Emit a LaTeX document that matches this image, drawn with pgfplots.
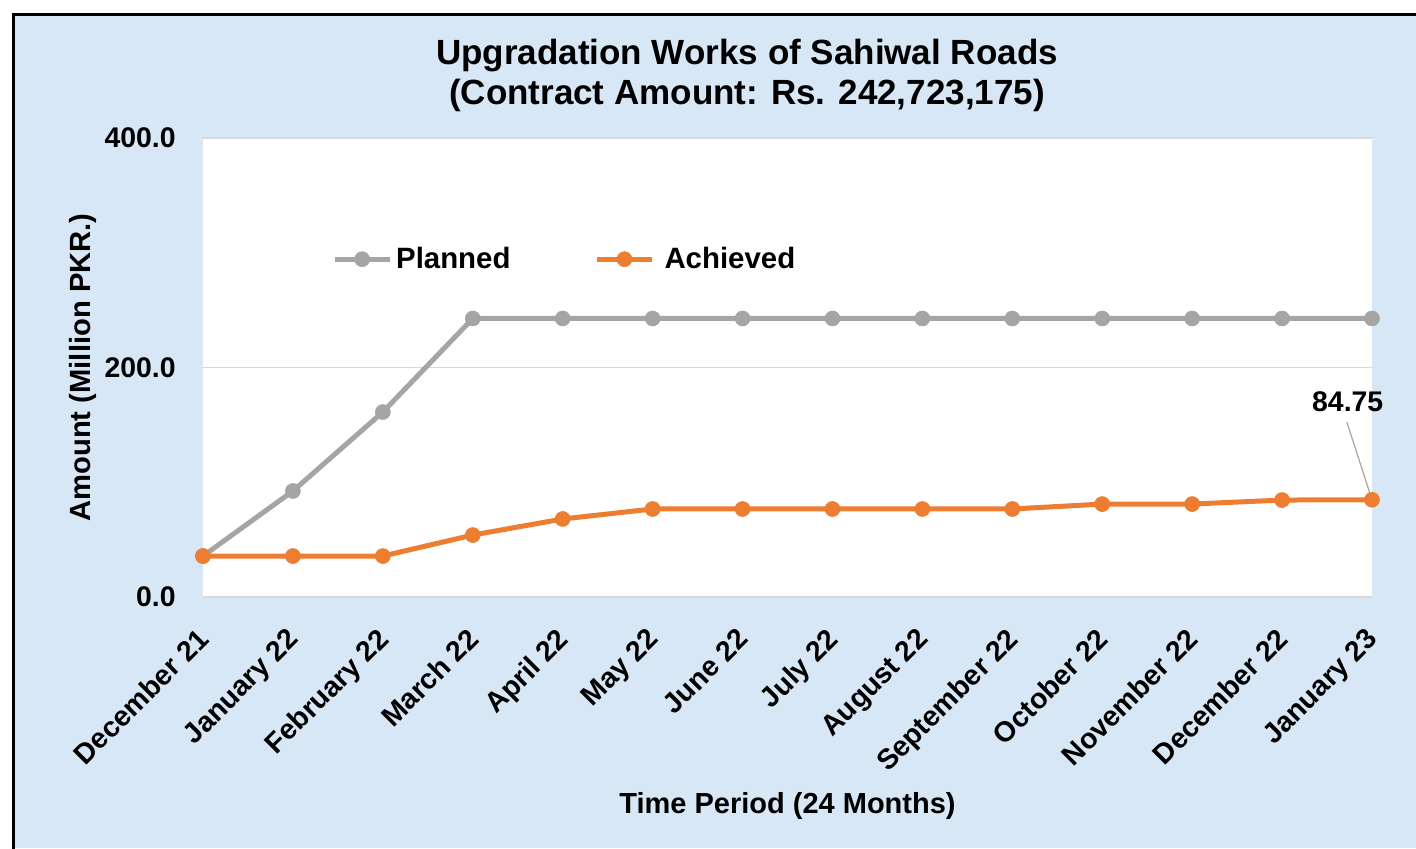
\documentclass[border=0pt]{standalone}
\usepackage{fontspec}
\setmainfont{Liberation Sans}
\usepackage{pgfplots}
\pgfplotsset{compat=1.18}
\definecolor{bgblue}{RGB}{216,231,245}
\definecolor{plangray}{RGB}{165,165,165}
\definecolor{achorange}{RGB}{237,125,49}
\definecolor{gridgray}{RGB}{217,217,217}
\begin{document}
\begin{tikzpicture}
\path[use as bounding box] (0,0) rectangle (708pt,424pt);
\fill[bgblue] (6.5pt,0) rectangle (708pt,416.5pt);
\draw[black, line width=1.5pt] (6.5pt,-1pt) -- (6.5pt,416.5pt) -- (709pt,416.5pt);
\node[align=center, font=\bfseries\fontsize{17.5}{20}\selectfont] at (373.5pt,386.5pt)
  {Upgradation Works of Sahiwal Roads\\(Contract Amount: Rs. 242,723,175)};
\begin{axis}[
  at={(101.5pt,125.5pt)}, anchor=south west,
  width=584.5pt, height=229.5pt, scale only axis,
  xmin=0, xmax=13, ymin=0, ymax=400,
  clip=false,
  axis background/.style={fill=white},
  axis line style={draw=none},
  ymajorgrids, grid style={gridgray, line width=0.75pt},
  major tick length=0pt,
  ytick={0,200,400}, yticklabels={0.0,200.0,400.0},
  yticklabel style={font=\bfseries\fontsize{14.2}{16}\selectfont, inner sep=0pt},
  yticklabel shift=13.5pt,
  xtick={0,...,13},
  xticklabels={December 21,January 22,February 22,March 22,April 22,May 22,June 22,July 22,August 22,September 22,October 22,November 22,December 22,January 23},
  xticklabel style={rotate=45, anchor=north east, inner sep=0pt, xshift=-5pt, font=\bfseries\fontsize{14.2}{16}\selectfont},
  xticklabel shift=11pt,
  ylabel={Amount (Million PKR.)},
  ylabel style={at={(axis description cs:-0.1027,0.5)}, anchor=center, font=\bfseries\fontsize{14.6}{16}\selectfont},
  xlabel={Time Period (24 Months)},
  xlabel style={at={(axis description cs:0.5,-0.455)}, anchor=center, font=\bfseries\fontsize{14.5}{16}\selectfont},
  legend style={at={(axis description cs:0.105,0.736)}, anchor=west, draw=none, fill=none,
    font=\bfseries\fontsize{14.7}{16}\selectfont, legend columns=2,
    /tikz/every even column/.append style={column sep=40pt}},
  legend image code/.code={\draw[mark repeat=2,mark phase=2,#1] plot coordinates {(0pt,0pt) (13.75pt,0pt) (27.5pt,0pt)};},
]
\addplot[plangray, line width=2.5pt, line join=round, mark=*, mark size=3.75pt,
  mark options={fill=plangray, draw=plangray, line width=0.3pt}]
  coordinates {(0,35.7) (1,92.4) (2,161.2) (3,242.72) (4,242.72) (5,242.72) (6,242.72) (7,242.72) (8,242.72) (9,242.72) (10,242.72) (11,242.72) (12,242.72) (13,242.72)};
\addlegendentry{Planned}
\addplot[achorange, line width=2.5pt, line join=round, mark=*, mark size=3.75pt,
  mark options={fill=achorange, draw=achorange, line width=0.3pt}]
  coordinates {(0,35.7) (1,35.7) (2,35.7) (3,54.0) (4,68.0) (5,76.7) (6,76.7) (7,76.7) (8,76.7) (9,76.7) (10,81.0) (11,81.0) (12,84.5) (13,84.75)};
\addlegendentry{\hspace{3pt}Achieved}
\draw[plangray, line width=0.6pt] (axis cs:12.72,152.5) -- (axis cs:12.99,87.1);
\node[font=\bfseries\fontsize{14.2}{16}\selectfont] at (axis cs:12.73,170) {84.75};
\end{axis}
\end{tikzpicture}
\end{document}
